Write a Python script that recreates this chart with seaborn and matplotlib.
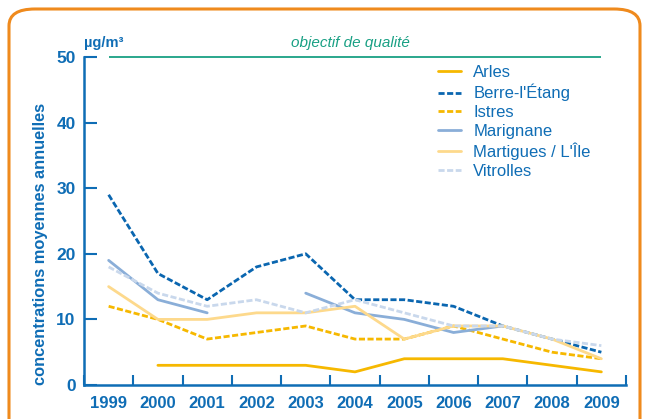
import numpy as np
import pandas as pd
import matplotlib
matplotlib.use("Agg")
import matplotlib.pyplot as plt
import seaborn as sns
from matplotlib.patches import FancyBboxPatch
from matplotlib.ticker import MultipleLocator

# Data (annual mean concentrations, µg/m3)
years = [1999, 2000, 2001, 2002, 2003, 2004, 2005, 2006, 2007, 2008, 2009]
arles = [np.nan, 3, 3, 3, 3, 2, 4, 4, 4, 3, 2]
berre = [29, 17, 13, 18, 20, 13, 13, 12, 9, 7, 5]
istres = [12, 10, 7, 8, 9, 7, 7, 9, 7, 5, 4]
marignane = [19, 13, 11, np.nan, 14, 11, 10, 8, 9, np.nan, np.nan]
martigues = [15, 10, 10, 11, 11, 12, 7, 9, 9, 7, 4]
vitrolles = [18, 14, 12, 13, 11, 13, 11, 9, 9, 7, 6]
objective = 50

sns.set_theme(style="white")
plt.rcParams['font.family'] = ['Liberation Sans Narrow', 'Liberation Sans', 'DejaVu Sans']

blue = '#0f6db5'
series = [
    ("Arles", arles, '#f6b800', '-'),
    ("Berre-l'Étang", berre, '#0a66b0', (0, (2.2, 0.9))),
    ("Istres", istres, '#f6b800', (0, (2.2, 0.9))),
    ("Marignane", marignane, '#8aaed8', '-'),
    ("Martigues / L'Île", martigues, '#fdd98c', '-'),
    ("Vitrolles", vitrolles, '#c9d8ec', (0, (2.2, 0.9))),
]

fig = plt.figure(figsize=(6.49, 4.19), dpi=100)
ax = fig.add_axes([84/649, 1 - 385/419, 542/649, 328/419])

# orange rounded frame
frame = FancyBboxPatch((9/649, -0.05), 631/649, 1 - 9/419 + 0.05,
                       boxstyle="round,pad=0,rounding_size=0.04",
                       transform=fig.transFigure, fill=False,
                       edgecolor='#ef8a1d', linewidth=2.2, clip_on=False)
fig.patches.append(frame)

for name, vals, color, ls in series:
    df = pd.DataFrame({'year': years, 'val': vals})
    # split on gaps so missing years break the line
    df['seg'] = df['val'].isna().cumsum()
    df = df.dropna()
    first = True
    for _, part in df.groupby('seg'):
        sns.lineplot(data=part, x='year', y='val', ax=ax, color=color,
                     linestyle=ls, linewidth=2.0,
                     label=name if first else None)
        first = False

# quality objective line
ax.hlines(objective, 1999, 2009, color='#19a084', linewidth=1.3, clip_on=False)
fig.text(350/649, 1 - 43/419, "objectif de qualité", color='#19a084',
         style='italic', fontsize=11, ha='center', va='center')
fig.text(84/649, 1 - 43/419, "µg/m³", color=blue, fontweight='bold',
         fontsize=10.5, ha='left', va='center')

ax.set_xlim(1998.5, 2009.5)
ax.set_ylim(0, 50)
ax.set_xticks(years)
ax.set_xticklabels([str(y) for y in years])
ax.xaxis.set_minor_locator(MultipleLocator(1, offset=0.5))
ax.set_yticks([0, 10, 20, 30, 40, 50])
ax.tick_params(axis='x', which='major', length=0, pad=8, labelsize=12, labelcolor=blue)
ax.tick_params(axis='x', which='minor', direction='in', length=7, width=1.5, color=blue, bottom=True)
ax.tick_params(axis='y', direction='in', length=9, width=1.5, color=blue, left=True,
               pad=6, labelsize=12.5, labelcolor=blue)
for lab in ax.get_xticklabels() + ax.get_yticklabels():
    lab.set_fontweight('bold')

for side in ['top', 'right']:
    ax.spines[side].set_visible(False)
for side in ['left', 'bottom']:
    ax.spines[side].set_color(blue)
    ax.spines[side].set_linewidth(1.8)
ax.spines['left'].set_bounds(0, 50)

ax.set_xlabel("")
ax.set_ylabel("concentrations moyennes annuelles", color=blue, fontweight='bold',
              fontsize=11.8)
ax.yaxis.set_label_coords(-0.066, 0.43)

leg = ax.legend(loc='upper left', bbox_to_anchor=(0.64, 0.995), frameon=False,
                handlelength=1.4, handletextpad=0.75, labelspacing=0.22,
                borderaxespad=0, fontsize=12)
for t in leg.get_texts():
    t.set_color(blue)

fig.savefig("out.png", dpi=100)
